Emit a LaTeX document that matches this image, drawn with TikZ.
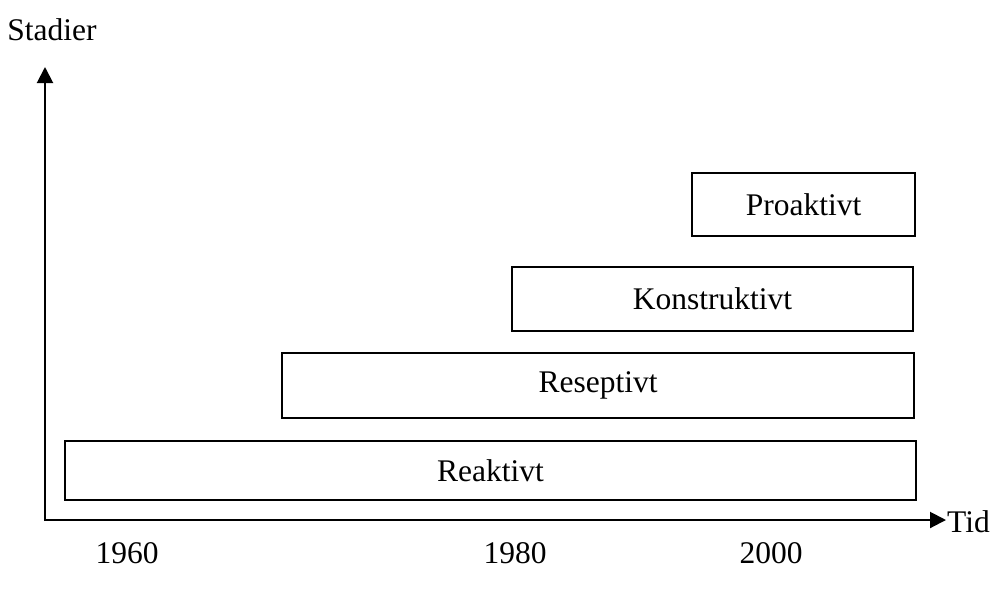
\documentclass[tikz,border=0pt]{standalone}
\usepackage{fontspec}
\setmainfont{Liberation Serif}
\usetikzlibrary{arrows.meta}
\begin{document}
\begin{tikzpicture}[x=1pt,y=-1pt,
  every node/.style={font=\fontsize{31.5}{37}\selectfont, inner sep=0pt},
  stagebox/.style={draw=black, line width=2pt, rectangle},
  axis/.style={line width=2pt, -{Triangle[length=16pt,width=16pt]}}]
\useasboundingbox (0,0) rectangle (995,590);
\coordinate (O) at (45,521);
\coordinate (ytip) at (45,67);
\coordinate (xtip) at (946,520);
\draw[axis] (O) -- (ytip);
\draw[axis] (44,520) -- (xtip);
\node (stadier) at (52,30) {Stadier};
\node[anchor=west] (tid) at (947,522) {Tid};
\node[stagebox, minimum width=223pt, minimum height=63pt] (pro) at (803.5,204.5) {Proaktivt};
\node[stagebox, minimum width=401pt, minimum height=64pt] (kon) at (712.5,299) {Konstruktivt};
\node[stagebox, minimum width=632pt, minimum height=65pt] (res) at (598,385.5) {Reseptivt};
\node[stagebox, minimum width=851pt, minimum height=59pt] (rea) at (490.5,470.5) {Reaktivt};
\node (y1960) at (127,553) {1960};
\node (y1980) at (515,553) {1980};
\node (y2000) at (771,553) {2000};
\end{tikzpicture}
\end{document}
